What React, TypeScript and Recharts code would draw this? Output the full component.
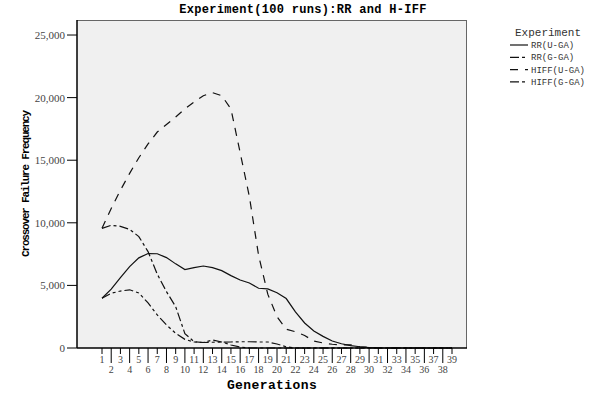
import React from 'react';
import { LineChart, Line, XAxis, YAxis, Legend } from 'recharts';

const generations = [
  '1', '2', '3', '4', '5', '6', '7', '8', '9', '10', '11', '12', '13',
  '14', '15', '16', '17', '18', '19', '20', '21', '22', '23', '24', '25', '26',
  '27', '28', '29', '30', '31', '32', '33', '34', '35', '36', '37', '38', '39',
];

const rrUGA = [
  3970, 4700, 5620, 6500, 7200, 7550, 7530, 7220, 6720, 6260, 6420, 6550, 6420,
  6180, 5780, 5430, 5190, 4770, 4720, 4420, 3950, 2880, 2000, 1360, 930, 560,
  340, 190, 100, 40, 0, 0, 0, 0, 0, 0, 0, 0, 0,
];
const rrGGA = [
  9560, 9800, 9720, 9480, 8900, 7700, 5900, 4500, 3300, 1150, 500, 440, 640,
  480, 240, 80, 0, 0, 0, 0, 0, 0, 0, 0, 0, 0,
  0, 0, 0, 0, 0, 0, 0, 0, 0, 0, 0, 0, 0,
];
const hiffUGA = [
  9560, 11150, 12600, 13950, 15200, 16300, 17250, 17850, 18450, 19100, 19650, 20150, 20400,
  20150, 19100, 15600, 12100, 7400, 4300, 2500, 1500, 1300, 1000, 550, 400, 300,
  250, 250, 100, 50, 0, 0, 0, 0, 0, 0, 0, 0, 0,
];
const hiffGGA = [
  3970, 4370, 4550, 4650, 4400, 3600, 2640, 1840, 1170, 690, 480, 440, 460,
  470, 480, 500, 500, 480, 480, 320, 100, 0, 0, 0, 0, 0,
  0, 0, 0, 0, 0, 0, 0, 0, 0, 0, 0, 0, 0,
];

const yTicks = [0, 5000, 10000, 15000, 20000, 25000];

const series = [
  { key: 'rrU', name: 'RR(U-GA)', dash: undefined },
  { key: 'rrG', name: 'RR(G-GA)', dash: '9 3 3 3' },
  { key: 'hiffU', name: 'HIFF(U-GA)', dash: '8 7' },
  { key: 'hiffG', name: 'HIFF(G-GA)', dash: '9 3 3 3 3 3' },
];

const data = generations.map((g, i) => ({
  g,
  rrU: rrUGA[i],
  rrG: rrGGA[i],
  hiffU: hiffUGA[i],
  hiffG: hiffGGA[i],
}));

const serif = '"Liberation Serif", "DejaVu Serif", serif';
const mono = '"Liberation Mono", "DejaVu Sans Mono", monospace';

// plot box (SPSS grey background), sits behind the svg
const PLOT = { left: 77, top: 20, right: 130, bottom: 49 };

const GenTick = (props: any) => {
  const { x, y, payload } = props;
  const odd = Number(payload.value) % 2 === 1;
  return (
    <g>
      <line x1={x} x2={x} y1={y} y2={y + (odd ? 6 : 15)} stroke="#000" strokeWidth={1} />
      <text x={x} y={y + (odd ? 15 : 25)} textAnchor="middle" fontSize={10} fill="#444" fontFamily={serif}>
        {payload.value}
      </text>
    </g>
  );
};

const renderLegend = () => (
  <svg width={97} height={75}>
    <text x={48} y={16} textAnchor="middle" fontSize={11} fill="#333" fontFamily={mono}>Experiment</text>
    {series.map((s, i) => (
      <g key={s.key}>
        <line x1={10} x2={28} y1={25 + i * 12.3} y2={25 + i * 12.3} stroke="#111" strokeWidth={1.2} strokeDasharray={s.dash} />
        <text x={31} y={28 + i * 12.3} fontSize={9} fill="#333" fontFamily={mono}>{s.name}</text>
      </g>
    ))}
  </svg>
);

export default function App() {
  return (
    <div style={{ position: 'absolute', left: 0, top: 0, width: 597, height: 397 }}>
      <div
        style={{
          position: 'absolute',
          left: PLOT.left,
          top: PLOT.top,
          width: 597 - PLOT.left - PLOT.right,
          height: 397 - PLOT.top - PLOT.bottom,
          boxSizing: 'border-box',
          background: '#f0f0f0',
          borderTop: '1px solid #666',
          borderRight: '1px solid #666',
        }}
      />
      <div
        style={{
          position: 'absolute',
          left: 0,
          top: 3,
          width: 606,
          textAlign: 'center',
          fontFamily: mono,
          fontWeight: 'bold',
          fontSize: 12,
          letterSpacing: 0.3,
          lineHeight: '15px',
          color: '#000',
        }}
      >
        Experiment(100 runs):RR and H-IFF
      </div>
      <LineChart width={597} height={397} data={data} margin={{ top: PLOT.top, right: PLOT.right, left: 0, bottom: 0 }}>
        <XAxis
          dataKey="g"
          interval={0}
          padding={{ left: 25, right: 15 }}
          height={PLOT.bottom}
          tickLine={false}
          tickSize={0}
          tickMargin={0}
          tick={<GenTick />}
          axisLine={{ stroke: '#000', strokeWidth: 1.5 }}
          label={{
            content: () => (
              <text x={272} y={389} textAnchor="middle" fontSize={13} fontWeight="bold" letterSpacing={0.4} fontFamily={mono} fill="#000">
                Generations
              </text>
            ),
          }}
        />
        <YAxis
          width={PLOT.left}
          domain={[0, 26200]}
          ticks={yTicks}
          interval={0}
          tickSize={10}
          tickMargin={2}
          tickLine={{ stroke: '#000' }}
          axisLine={{ stroke: '#000', strokeWidth: 1.5 }}
          tickFormatter={(v: number) => v.toLocaleString('en-US')}
          tick={{ fontSize: 11, fill: '#444', fontFamily: serif }}
          label={{
            content: (p: any) => {
              const vb = p.viewBox || { x: 0, y: 20, height: 328 };
              const cy = vb.y + vb.height / 2;
              return (
                <text
                  x={29}
                  y={cy}
                  transform={`rotate(-90, 29, ${cy})`}
                  textAnchor="middle"
                  fontSize={11}
                  fontWeight="bold"
                  letterSpacing={-1.2}
                  fontFamily={mono}
                  fill="#000"
                >
                  Crossover Failure Frequency
                </text>
              );
            },
          }}
        />
        <Legend
          layout="vertical"
          align="center"
          verticalAlign="middle"
          content={renderLegend}
          wrapperStyle={{ position: 'absolute', left: 500, top: 20, width: 97, height: 75 }}
        />
        {series.map((s) => (
          <Line
            key={s.key}
            type="linear"
            dataKey={s.key}
            name={s.name}
            stroke="#111"
            strokeWidth={1.2}
            strokeDasharray={s.dash}
            dot={false}
            activeDot={false}
            isAnimationActive={false}
          />
        ))}
      </LineChart>
    </div>
  );
}
